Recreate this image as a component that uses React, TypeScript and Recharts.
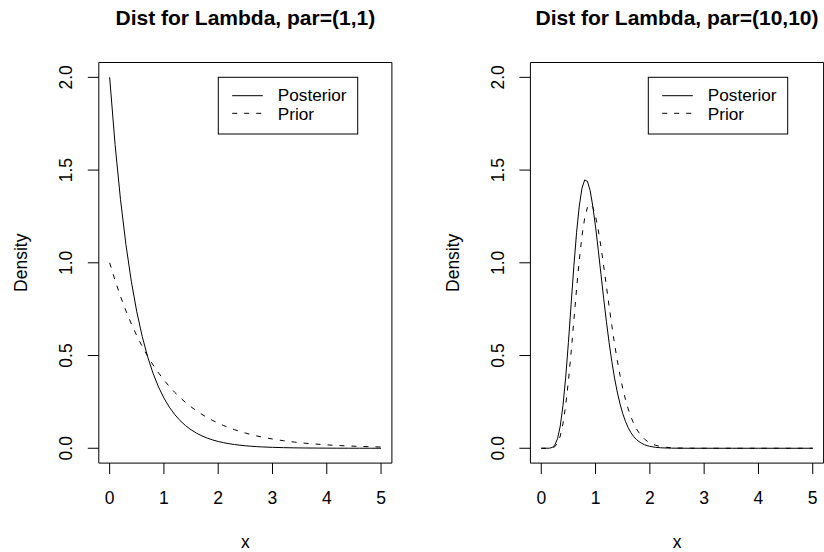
import React from "react";
import { LineChart, Line, XAxis, YAxis, ReferenceArea } from "recharts";

// ---------- data ----------
const leftX = [0, 0.1, 0.2, 0.3, 0.4, 0.5, 0.6, 0.7, 0.8, 0.9, 1.0, 1.1, 1.2, 1.3, 1.4, 1.5, 1.6, 1.7, 1.8, 1.9, 2.0, 2.1, 2.2, 2.3, 2.4, 2.5, 2.6, 2.7, 2.8, 2.9, 3.0, 3.2, 3.4, 3.6, 3.8, 4.0, 4.2, 4.4, 4.6, 4.8, 5.0];
const leftPosterior = [2.0, 1.6375, 1.3406, 1.0976, 0.8987, 0.7358, 0.6024, 0.4932, 0.4038, 0.3306, 0.2707, 0.2216, 0.1814, 0.1485, 0.1216, 0.0996, 0.0815, 0.0667, 0.0546, 0.0447, 0.0366, 0.03, 0.0246, 0.0201, 0.0165, 0.0135, 0.011, 0.009, 0.0074, 0.0061, 0.005, 0.0033, 0.0022, 0.0015, 0.001, 0.0007, 0.0004, 0.0003, 0.0002, 0.0001, 0.0001];
const leftPrior = [1.0, 0.9048, 0.8187, 0.7408, 0.6703, 0.6065, 0.5488, 0.4966, 0.4493, 0.4066, 0.3679, 0.3329, 0.3012, 0.2725, 0.2466, 0.2231, 0.2019, 0.1827, 0.1653, 0.1496, 0.1353, 0.1225, 0.1108, 0.1003, 0.0907, 0.0821, 0.0743, 0.0672, 0.0608, 0.055, 0.0498, 0.0408, 0.0334, 0.0273, 0.0224, 0.0183, 0.015, 0.0123, 0.0101, 0.0082, 0.0067];

const rightX = [0, 0.05, 0.1, 0.15, 0.2, 0.25, 0.3, 0.35, 0.4, 0.45, 0.5, 0.55, 0.6, 0.65, 0.7, 0.75, 0.8, 0.85, 0.9, 0.95, 1.0, 1.05, 1.1, 1.15, 1.2, 1.25, 1.3, 1.35, 1.4, 1.45, 1.5, 1.55, 1.6, 1.65, 1.7, 1.75, 1.8, 1.85, 1.9, 1.95, 2.0, 2.1, 2.2, 2.3, 2.4, 2.5, 2.75, 3.0, 3.5, 4.0, 4.5, 5.0];
const rightPosterior = [0, 0, 0.00002, 0.00053, 0.00406, 0.01743, 0.0519, 0.1199, 0.2299, 0.3829, 0.5707, 0.7757, 0.9802, 1.1621, 1.3063, 1.4025, 1.4466, 1.4394, 1.3899, 1.3037, 1.1939, 1.0685, 0.9371, 0.8066, 0.6826, 0.5686, 0.467, 0.3784, 0.3028, 0.2396, 0.1876, 0.1454, 0.1116, 0.0849, 0.0641, 0.048, 0.0357, 0.0264, 0.0193, 0.0141, 0.0102, 0.00527, 0.00267, 0.00133, 0.00065, 0.00031, 0.00005, 0.00001, 0, 0, 0, 0];
const rightPrior = [0, 0, 0.00001, 0.00024, 0.00191, 0.00863, 0.027, 0.0656, 0.1323, 0.2315, 0.3628, 0.5184, 0.6887, 0.8581, 1.0142, 1.1447, 1.2412, 1.2984, 1.318, 1.2997, 1.2512, 1.1773, 1.0853, 0.9822, 0.8737, 0.7652, 0.6606, 0.5627, 0.4735, 0.3938, 0.3241, 0.2641, 0.2131, 0.1705, 0.1353, 0.1065, 0.0833, 0.0646, 0.0498, 0.0382, 0.0291, 0.0166, 0.00928, 0.00509, 0.00275, 0.00146, 0.00028, 0.00005, 0, 0, 0, 0];

const xTicks = [0, 1, 2, 3, 4, 5];
const xTickLabels = ["0", "1", "2", "3", "4", "5"];
const yTicks = [0, 0.5, 1.0, 1.5, 2.0];
const yTickLabels = ["0.0", "0.5", "1.0", "1.5", "2.0"];
const seriesNames = ["Posterior", "Prior"];
const titles = ["Dist for Lambda, par=(1,1)", "Dist for Lambda, par=(10,10)"];

// ---------- style ----------
const FONT = "'Liberation Sans', Arial, Helvetica, sans-serif";
const TICK_FS = 17.5;
const LAB_FS = 17.5;
const LEG_FS = 17.2;
const DASH = "5 7";
const X_DOMAIN: [number, number] = [-0.2, 5.2];
const Y_DOMAIN: [number, number] = [-0.08, 2.08];

const XTick = (props: any) => {
  const { x, y, index } = props;
  return (
    <text x={x} y={y} textAnchor="middle" fontFamily={FONT} fontSize={TICK_FS} fill="#000">
      {xTickLabels[index]}
    </text>
  );
};

const YTick = (props: any) => {
  const { x, y, index } = props;
  return (
    <text
      x={x}
      y={y}
      textAnchor="middle"
      transform={`rotate(-90, ${x}, ${y})`}
      fontFamily={FONT}
      fontSize={TICK_FS}
      fill="#000"
    >
      {yTickLabels[index]}
    </text>
  );
};

type PanelProps = {
  left: number;
  xs: number[];
  post: number[];
  prior: number[];
  title: string;
  marginLeft: number;
  marginRight: number;
  legendLeft: number;
};

const Panel = ({ left, xs, post, prior, title, marginLeft, marginRight, legendLeft }: PanelProps) => {
  const data = xs.map((x, i) => ({ x, post: post[i], prior: prior[i] }));
  const plotLeft = marginLeft + 60;
  const plotRight = 412 - marginRight;
  const centre = (plotLeft + plotRight) / 2;
  const lt = 77.3;
  return (
    <div style={{ position: "absolute", left, top: 0, width: 412, height: 552 }}>
      <LineChart
        width={412}
        height={552}
        data={data}
        margin={{ top: 62.5, right: marginRight, bottom: 28.9, left: marginLeft }}
      >
        <XAxis
          dataKey="x"
          type="number"
          domain={X_DOMAIN}
          ticks={xTicks}
          allowDataOverflow
          axisLine={false}
          tickLine={{ stroke: "#000", strokeWidth: 1 }}
          tickSize={11}
          tickMargin={29.9}
          height={60}
          tick={<XTick />}
          interval={0}
          label={(p: any) => {
            const vb = p.viewBox;
            return (
              <text x={vb.x + vb.width / 2} y={vb.y + 85.2} textAnchor="middle" fontFamily={FONT} fontSize={LAB_FS} fill="#000">
                x
              </text>
            );
          }}
        />
        <YAxis
          type="number"
          domain={Y_DOMAIN}
          ticks={yTicks}
          allowDataOverflow
          axisLine={false}
          tickLine={{ stroke: "#000", strokeWidth: 1 }}
          tickSize={11}
          tickMargin={15.3}
          width={60}
          tick={<YTick />}
          interval={0}
          label={(p: any) => {
            const vb = p.viewBox;
            const bx = vb.x + vb.width - 71.6;
            const by = vb.y + vb.height / 2;
            return (
              <text x={bx} y={by} textAnchor="middle" transform={`rotate(-90, ${bx}, ${by})`} fontFamily={FONT} fontSize={LAB_FS} fill="#000">
                Density
              </text>
            );
          }}
        />
        <ReferenceArea
          x1={X_DOMAIN[0]}
          x2={X_DOMAIN[1]}
          y1={Y_DOMAIN[0]}
          y2={Y_DOMAIN[1]}
          fill="none"
          fillOpacity={0}
          stroke="#000"
          strokeWidth={1}
          ifOverflow="visible"
        />
        <Line
          type="linear"
          dataKey="post"
          name={seriesNames[0]}
          stroke="#000"
          strokeWidth={1}
          dot={false}
          activeDot={false}
          isAnimationActive={false}
        />
        <Line
          type="linear"
          dataKey="prior"
          name={seriesNames[1]}
          stroke="#000"
          strokeWidth={1}
          strokeDasharray={DASH}
          dot={false}
          activeDot={false}
          isAnimationActive={false}
        />
      </LineChart>
      <svg
        width={412}
        height={552}
        style={{ position: "absolute", left: 0, top: 0, pointerEvents: "none" }}
      >
        <text x={centre} y={25} textAnchor="middle" fontFamily={FONT} fontSize={21} fontWeight="bold" fill="#000">
          {title}
        </text>
        <g transform={`translate(${legendLeft}, ${lt})`}>
          <rect x={0.5} y={0} width={139.4} height={56.7} fill="#fff" stroke="#000" strokeWidth={1} />
          <line x1={14.4} x2={45} y1={18.4} y2={18.4} stroke="#000" strokeWidth={1} />
          <line x1={14.4} x2={45} y1={36} y2={36} stroke="#000" strokeWidth={1} strokeDasharray={DASH} />
          <text x={60} y={23.8} fontFamily={FONT} fontSize={LEG_FS} fill="#000">
            {seriesNames[0]}
          </text>
          <text x={60} y={43.2} fontFamily={FONT} fontSize={LEG_FS} fill="#000">
            {seriesNames[1]}
          </text>
        </g>
      </svg>
    </div>
  );
}

export default function App() {
  return (
    <div style={{ position: "absolute", left: 0, top: 0, width: 824, height: 552, background: "#fff", overflow: "hidden" }}>
      <Panel left={0} xs={leftX} post={leftPosterior} prior={leftPrior} title={titles[0]} marginLeft={38.8} marginRight={20.1} legendLeft={217.8} />
      <Panel left={412} xs={rightX} post={rightPosterior} prior={rightPrior} title={titles[1]} marginLeft={58.4} marginRight={0.4} legendLeft={235.8} />
    </div>
  );
}
